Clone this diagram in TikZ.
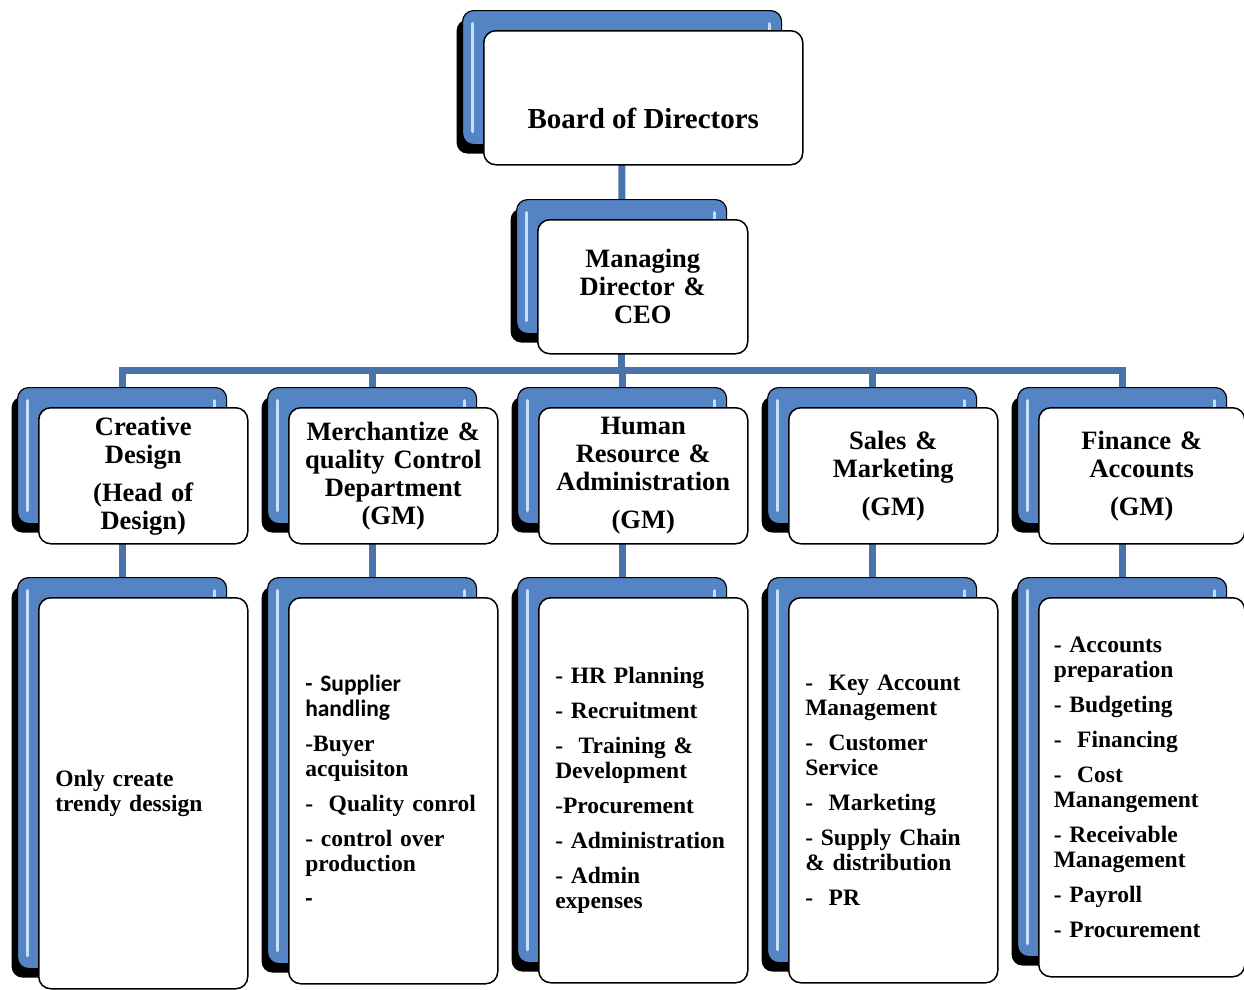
\documentclass[tikz,border=0pt]{standalone}
\usepackage{fontspec}
\setmainfont{Liberation Serif}
\newfontfamily\calibrifont{Carlito}
\usetikzlibrary{shadows,backgrounds}

\definecolor{linkblue}{RGB}{72,115,171}
\definecolor{boxblue}{RGB}{84,132,196}
\definecolor{glare}{RGB}{196,224,252}

\begin{document}
\begin{tikzpicture}[x=1pt, y=-1pt,
    back/.style={draw=black, line width=1.2pt, fill=boxblue, rounded corners=11pt,
                 anchor=north west, inner sep=0pt,
                 drop shadow={shadow xshift=-6pt, shadow yshift=-9pt, opacity=1, fill=black},
                 path picture={
                   \draw[glare, line width=3.5pt, line cap=round]
                     ([shift={(10pt,-13pt)}]path picture bounding box.north west) --
                     ([shift={(10pt,13pt)}]path picture bounding box.south west);
                   \draw[glare, line width=3pt, line cap=round]
                     ([shift={(-12pt,-13pt)}]path picture bounding box.north east) -- ++(0pt,-12pt);
                 }},
    front/.style={draw=black, line width=1.5pt, fill=white, rounded corners=12pt,
                  anchor=north west, inner sep=0pt, align=center},
    head/.style={font=\fontsize{26.5}{28}\selectfont\bfseries, text width=205pt},
    duty/.style={font=\fontsize{23.5}{25}\selectfont\bfseries, text width=176pt, align=left},
    link/.style={draw=linkblue, line width=7pt}]

\useasboundingbox (0,0) rectangle (1244,989);

% Board and managing director
\node[back, minimum width=319pt, minimum height=134pt] (Bbod) at (462,10) {};
\node[front, minimum width=319pt, minimum height=134pt, font=\fontsize{29}{31}\selectfont\bfseries]
    (bod) at ([shift={(21,20)}]Bbod.north west) {\strut\\[10pt]Board of Directors};

\node[back, minimum width=210pt, minimum height=134pt] (Bmd) at (516,199) {};
\node[front, head, minimum width=210pt, minimum height=134pt]
    (md) at ([shift={(21,20)}]Bmd.north west) {Managing\\Director \&\\CEO};

% Departments
\foreach \i in {1,...,5} {
    \node[back, minimum width=209pt, minimum height=136pt] (D\i) at ({17+250*(\i-1)},387) {};
}
\node[front, head, minimum width=209pt, minimum height=136pt] (dept1) at ([shift={(21,20)}]D1.north west)
    {Creative\\Design\\[10pt](Head of\\Design)};
\node[front, head, minimum width=209pt, minimum height=136pt] (dept2) at ([shift={(21,20)}]D2.north west)
    {Merchantize \&\\quality Control\\Department\\(GM)};
\node[front, head, minimum width=209pt, minimum height=136pt] (dept3) at ([shift={(21,20)}]D3.north west)
    {Human\\Resource \&\\Administration\\[10pt](GM)};
\node[front, head, minimum width=209pt, minimum height=136pt] (dept4) at ([shift={(21,20)}]D4.north west)
    {Sales \&\\Marketing\\[10pt](GM)};
\node[front, head, minimum width=206pt, minimum height=136pt] (dept5) at ([shift={(21,20)}]D5.north west)
    {Finance \&\\Accounts\\[10pt](GM)};

% Duties of each department
\foreach \i/\h in {1/391, 2/386, 3/385, 4/385, 5/379} {
    \node[back, minimum width=209pt, minimum height=\h pt] (R\i) at ({17+250*(\i-1)},577) {};
}
\node[front, duty, minimum width=209pt, minimum height=391pt] (duty1) at ([shift={(21,20)}]R1.north west)
    {Only create\\trendy dessign};
\node[front, duty, minimum width=209pt, minimum height=386pt] (duty2) at ([shift={(21,20)}]R2.north west)
    {{\calibrifont - Supplier\\handling}\\[10pt]
     -Buyer\\acquisiton\\[10pt]
     -~ Quality conrol\\[10pt]
     - control over\\production\\[10pt]
     {\calibrifont -}};
\node[front, duty, minimum width=209pt, minimum height=385pt] (duty3) at ([shift={(21,20)}]R3.north west)
    {- HR Planning\\[10pt]
     - Recruitment\\[10pt]
     -~ Training \&\\Development\\[10pt]
     -Procurement\\[10pt]
     - Administration\\[10pt]
     - Admin\\expenses};
\node[front, duty, minimum width=209pt, minimum height=385pt] (duty4) at ([shift={(21,20)}]R4.north west)
    {-~ Key Account\\Management\\[10pt]
     -~ Customer\\Service\\[10pt]
     -~ Marketing\\[10pt]
     - Supply Chain\\\& distribution\\[10pt]
     -~ PR};
\node[front, duty, minimum width=206pt, minimum height=379pt] (duty5) at ([shift={(21,20)}]R5.north west)
    {- Accounts\\preparation\\[10pt]
     - Budgeting\\[10pt]
     -~ Financing\\[10pt]
     -~ Cost\\Manangement\\[10pt]
     - Receivable\\Management\\[10pt]
     - Payroll\\[10pt]
     - Procurement};

% Connectors behind the boxes
\begin{pgfonlayer}{background}
    \coordinate (bus) at (0,370);
    \draw[link] (Bbod.center) -- (Bmd.center);
    \foreach \i in {1,...,5} {
        \draw[link] (Bmd.center) |- (bus -| D\i.center) -- (D\i.center);
        \draw[link] (D\i.center) -- (R\i.center);
    }
\end{pgfonlayer}

\end{tikzpicture}
\end{document}
